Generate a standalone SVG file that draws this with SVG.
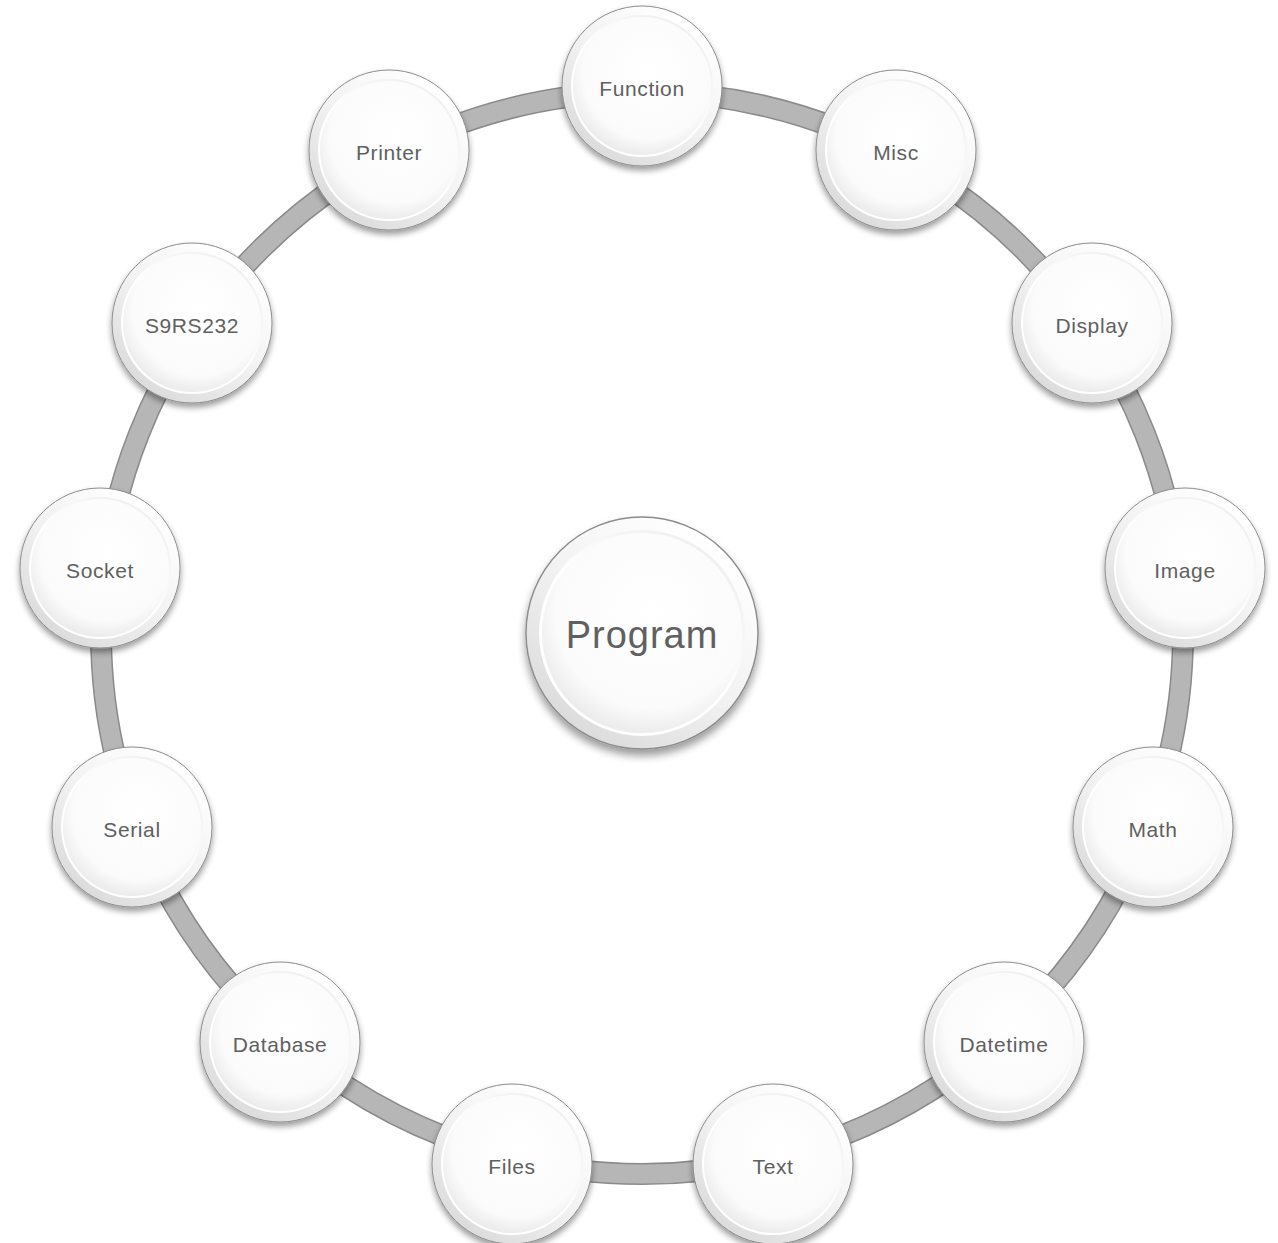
<svg xmlns="http://www.w3.org/2000/svg" width="1278" height="1243" viewBox="0 0 1278 1243">
<defs>
<radialGradient id="face" cx="0.55" cy="0.4" r="0.6">
<stop offset="0" stop-color="#ffffff"/>
<stop offset="0.8" stop-color="#fbfbfb"/>
<stop offset="1" stop-color="#ececec"/>
</radialGradient>
<linearGradient id="rim" x1="0.8" y1="0.1" x2="0.2" y2="0.9">
<stop offset="0" stop-color="#ffffff"/>
<stop offset="0.5" stop-color="#f2f2f2"/>
<stop offset="1" stop-color="#dcdcdc"/>
</linearGradient>
<linearGradient id="inner" x1="0.8" y1="0.1" x2="0.2" y2="0.9">
<stop offset="0" stop-color="#f0f0f0"/>
<stop offset="0.5" stop-color="#ffffff"/>
<stop offset="1" stop-color="#ffffff"/>
</linearGradient>
<filter id="sh" x="-30%" y="-30%" width="160%" height="170%">
<feGaussianBlur in="SourceAlpha" stdDeviation="3"/>
<feOffset dx="0" dy="4" result="b"/>
<feComponentTransfer><feFuncA type="linear" slope="0.4"/></feComponentTransfer>
<feMerge><feMergeNode/><feMergeNode in="SourceGraphic"/></feMerge>
</filter>
<g id="bubble">
<circle r="80" fill="url(#rim)" stroke="#8c8c8c" stroke-width="1" filter="url(#sh)"/>
<circle r="71" fill="url(#inner)"/>
<circle r="69" fill="url(#face)"/>
</g>
</defs>
<style>
text{font-family:"Liberation Sans","DejaVu Sans",sans-serif;fill:#606060;text-anchor:middle;dominant-baseline:central}
.n{font-size:21px;letter-spacing:0.6px}
.c{font-size:38px;letter-spacing:1px}
</style>
<rect width="1278" height="1243" fill="#ffffff"/>
<g id="connectors">
<circle cx="642" cy="633" r="541" fill="none" stroke="#8a8a8a" stroke-width="22"/>
<circle cx="642" cy="633" r="541" fill="none" stroke="#b6b6b6" stroke-width="19"/>
</g>
<g id="node-function" transform="translate(642,86)"><use href="#bubble"/><text class="n" y="2">Function</text></g>
<g id="node-misc" transform="translate(896,150)"><use href="#bubble"/><text class="n" y="2">Misc</text></g>
<g id="node-display" transform="translate(1092,323)"><use href="#bubble"/><text class="n" y="2">Display</text></g>
<g id="node-image" transform="translate(1185,568)"><use href="#bubble"/><text class="n" y="2">Image</text></g>
<g id="node-math" transform="translate(1153,827)"><use href="#bubble"/><text class="n" y="2">Math</text></g>
<g id="node-datetime" transform="translate(1004,1042)"><use href="#bubble"/><text class="n" y="2">Datetime</text></g>
<g id="node-text" transform="translate(773,1164)"><use href="#bubble"/><text class="n" y="2">Text</text></g>
<g id="node-files" transform="translate(512,1164)"><use href="#bubble"/><text class="n" y="2">Files</text></g>
<g id="node-database" transform="translate(280,1042)"><use href="#bubble"/><text class="n" y="2">Database</text></g>
<g id="node-serial" transform="translate(132,827)"><use href="#bubble"/><text class="n" y="2">Serial</text></g>
<g id="node-socket" transform="translate(100,568)"><use href="#bubble"/><text class="n" y="2">Socket</text></g>
<g id="node-s9rs232" transform="translate(192,323)"><use href="#bubble"/><text class="n" y="2">S9RS232</text></g>
<g id="node-printer" transform="translate(389,150)"><use href="#bubble"/><text class="n" y="2">Printer</text></g>
<g id="node-program" transform="translate(642,633)">
<g transform="scale(1.45)"><use href="#bubble"/></g>
<text class="c" y="2">Program</text>
</g>
</svg>
